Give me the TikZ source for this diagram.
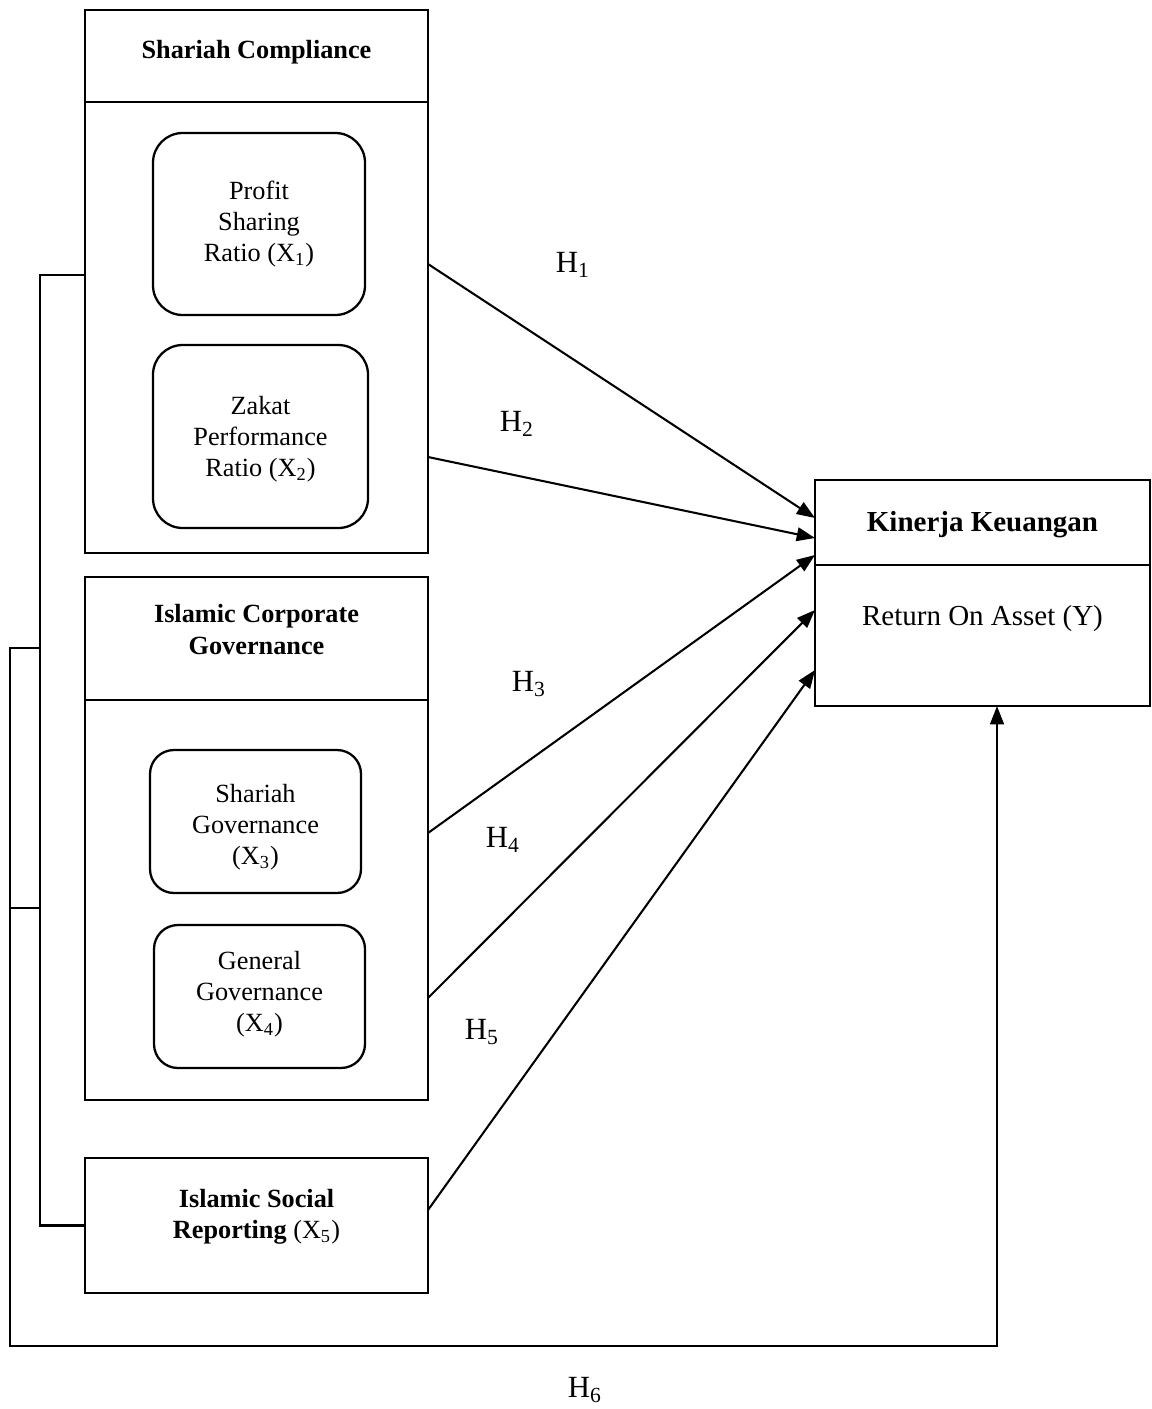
\documentclass[tikz,border=0pt]{standalone}
\usepackage{fontspec}
\setmainfont{Liberation Serif}
\usetikzlibrary{arrows.meta,calc,fit}
\newcommand{\bodyfont}{\fontsize{11.5}{13.6}\selectfont}
\newcommand{\bigfont}{\fontsize{12.7}{14.6}\selectfont}
\newcommand{\hypfont}{\fontsize{13.5}{15}\selectfont}

\begin{document}
\begin{tikzpicture}[
  x=0.438pt, y=-0.438pt,
  box/.style={draw,line width=1pt,inner sep=0pt,outer sep=0pt},
  rbox/.style={box,rounded corners=13pt},
  sbox/.style={box,rounded corners=10.5pt},
  txt/.style={inner sep=0pt,align=center,font=\bodyfont},
  hyp/.style={inner sep=0pt,font=\hypfont},
  line/.style={line width=0.9pt},
  arr/.style={line,-{Triangle[length=8pt,width=6pt]}}
]
\fill[white] (0,0) rectangle (1150,1409);
% Shariah Compliance
\node[box,fit={(85,10) (428,102)}] (schead) {};
\node[box,fit={(85,102) (428,553)}] (scbody) {};
\node[rbox,fit={(153,133) (365,315)}] (psr) {};
\node[rbox,fit={(153,345) (368,528)}] (zpr) {};
\node[txt] (scheadtxt) at ($(schead)+(0,-4)$) {\textbf{Shariah Compliance}};
\node[txt] (psrtxt) at (psr) {Profit\\Sharing\\Ratio (X\textsubscript{1})};
\node[txt] (zprtxt) at ($(zpr)+(0,2.5)$) {Zakat\\Performance\\Ratio (X\textsubscript{2})};
% Islamic Corporate Governance
\node[box,fit={(85,577) (428,700)}] (icghead) {};
\node[box,fit={(85,700) (428,1100)}] (icgbody) {};
\node[sbox,fit={(150,750) (361,893)}] (sg) {};
\node[sbox,fit={(154,925) (365,1068)}] (gg) {};
\node[txt] (icgheadtxt) at ($(icghead)+(0,-9)$) {\textbf{Islamic Corporate}\\\textbf{Governance}};
\node[txt] (sgtxt) at ($(sg)+(0,6)$) {Shariah\\Governance\\(X\textsubscript{3})};
\node[txt] (ggtxt) at ($(gg)+(0,-2.5)$) {General\\Governance\\(X\textsubscript{4})};
% Islamic Social Reporting
\node[box,fit={(85,1158) (428,1293)}] (isr) {};
\node[txt] (isrtxt) at ($(isr)+(0,-9)$) {\textbf{Islamic Social}\\\textbf{Reporting} (X\textsubscript{5})};
% Kinerja Keuangan
\node[box,fit={(815,480) (1150,565)}] (khead) {};
\node[box,fit={(815,565) (1150,706)}] (kbody) {};
\node[txt,font=\bigfont] (kheadtxt) at ($(khead)+(0,2.5)$) {\textbf{Kinerja Keuangan}};
\node[txt,font=\bigfont] (roa) at ($(kbody)+(0,-17)$) {Return On Asset (Y)};

% hypotheses
\draw[arr] ($(scbody.east)+(0,-63.5)$) -- ($(khead.west)+(0,-4.5)$);
\draw[arr] ($(scbody.east)+(0,129.5)$) -- ($(khead.west)+(0,15.5)$);
\draw[arr] ($(icgbody.east)+(0,-67)$) -- ($(khead.west)+(0,32.5)$);
\draw[arr] ($(icgbody.east)+(0,98)$) -- ($(kbody.west)+(0,-25.5)$);
\draw[arr] ($(isr.east)+(0,-15.5)$) -- ($(kbody.west)+(0,34.5)$);

% simultaneous path
\coordinate (jA) at (40,648);
\coordinate (jB) at (40,908);
\coordinate (bend) at (997,1346);
\draw[line] ($(scbody.west)+(0,-52.5)$) -- ++(-45,0) |- (isr.west);
\draw[line] (jB) -- ++(-30,0);
\draw[arr] (jA) -- ++(-30,0) |- (bend) -- (kbody.south -| bend);

\node[hyp] (h1) at (573,265) {H\textsubscript{1}};
\node[hyp] (h2) at (517,424) {H\textsubscript{2}};
\node[hyp] (h3) at (529,684) {H\textsubscript{3}};
\node[hyp] (h4) at (503,840) {H\textsubscript{4}};
\node[hyp] (h5) at (482,1032) {H\textsubscript{5}};
\node[hyp] (h6) at (585,1390) {H\textsubscript{6}};
\end{tikzpicture}
\end{document}
